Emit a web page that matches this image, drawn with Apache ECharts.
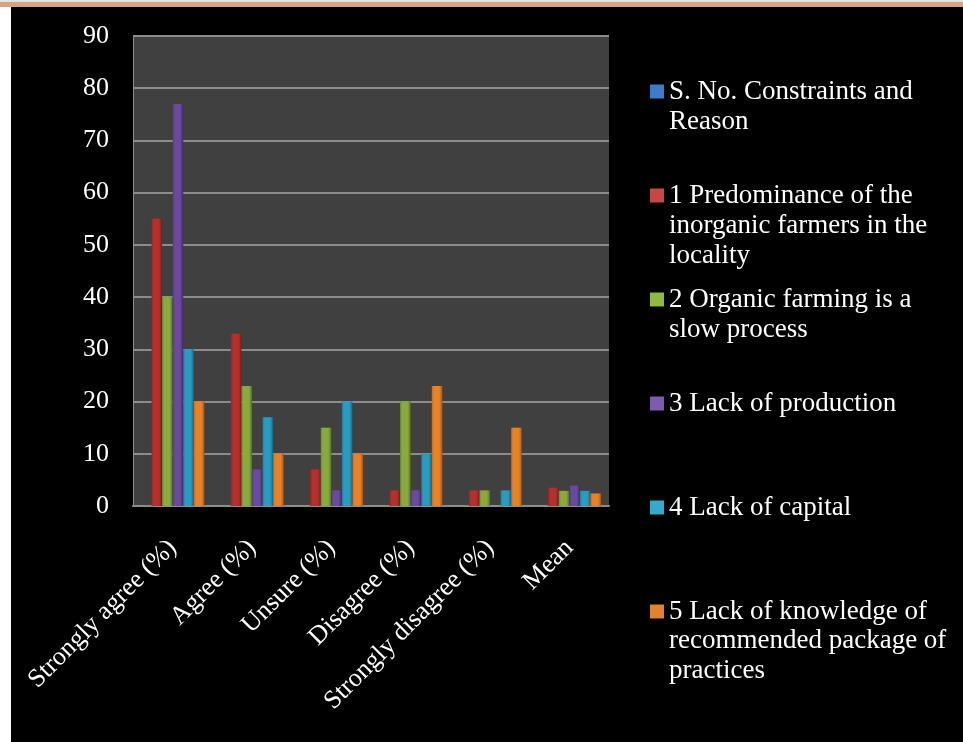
<!DOCTYPE html>
<html>
<head>
<meta charset="utf-8">
<script src="https://cdn.jsdelivr.net/npm/echarts@6/dist/echarts.min.js"></script>
<style>
html,body{margin:0;padding:0;background:#fff;}
</style>
</head>
<body>
<div style="position:absolute;left:0;top:0;width:963px;height:2px;background:#e4e4e4"></div>
<div style="position:absolute;left:0;top:2px;width:963px;height:5px;background:#d4a483"></div>
<div style="position:absolute;left:11px;top:7px;width:952px;height:735px;background:#000"></div>
<div id="chart" style="position:absolute;left:0;top:0;width:963px;height:742px"></div>
<script>
const categories = ['Strongly agree (%)', 'Agree (%)', 'Unsure (%)', 'Disagree (%)', 'Strongly disagree (%)', 'Mean'];
const seriesNames = ['S. No. Constraints and Reason', '1 Predominance of the inorganic farmers in the locality', '2 Organic farming is a slow process', '3 Lack of production', '4 Lack of capital', '5 Lack of knowledge of recommended package of practices'];
const legendFirstLines = ['S. No. Constraints and', '1 Predominance of the', '2 Organic farming is a', '3 Lack of production', '4 Lack of capital', '5 Lack of knowledge of'];
const legendMoreLines = [['Reason'], ['inorganic farmers in the', 'locality'], ['slow process'], [], [], ['recommended package of', 'practices']];
const sNoValues = [null, null, null, null, null, null];
const predominance = [55, 33, 7, 3, 3, 3.5];
const slowProcess = [40, 23, 15, 20, 3, 2.9];
const lackProduction = [77, 7, 3, 3, null, 3.9];
const lackCapital = [30, 17, 20, 10, 3, 2.9];
const lackKnowledge = [20, 10, 10, 23, 15, 2.4];
const yTicks = [0, 10, 20, 30, 40, 50, 60, 70, 80, 90];

const seriesValues = [sNoValues, predominance, slowProcess, lackProduction, lackCapital, lackKnowledge];
const palette = [
  ['#2c5f9e', '#4a86cf', '#23487a'],
  ['#952424', '#b3302e', '#6e1818'],
  ['#6d8d2c', '#88aa40', '#4f6a1e'],
  ['#523880', '#6a4a9c', '#3a2660'],
  ['#227d9c', '#2b9cc0', '#176078'],
  ['#c86a1c', '#e6822a', '#9a4e12']
];
const iconColors = ['#3d7cc9', '#c94646', '#8fb845', '#7c5cab', '#35aacb', '#e0822f'];

function grad(c) {
  return new echarts.graphic.LinearGradient(0, 0, 1, 0, [
    {offset: 0, color: c[0]}, {offset: 0.2, color: c[1]}, {offset: 0.7, color: c[1]}, {offset: 0.88, color: c[0]}, {offset: 1, color: c[2]}
  ]);
}

const font = 'Liberation Serif';
const legendSize = 27;
const chart = echarts.init(document.getElementById('chart'), null, {renderer: 'canvas'});

const graphics = [];
const firstCenters = [90, 194, 298, 402, 506, 609];
const lineGap = 30.5;
legendMoreLines.forEach((lines, i) => {
  lines.forEach((t, j) => {
    graphics.push({
      type: 'text', left: 669, top: firstCenters[i] + lineGap * (j + 1) - 12.5,
      style: {text: t, fill: '#fff', font: legendSize + 'px "' + font + '"', textVerticalAlign: 'top'}
    });
  });
});

chart.setOption({
  backgroundColor: 'transparent',
  animation: false,
  grid: {left: 133, top: 36, right: 354, bottom: 236, show: true, backgroundColor: '#404040', borderWidth: 0},
  legend: {
    orient: 'vertical', left: 650, top: 76, padding: 0,
    itemWidth: 14, itemHeight: 14, itemGap: 73,
    icon: 'rect',
    textStyle: {color: '#fff', fontFamily: font, fontSize: legendSize, lineHeight: 31},
    formatter: name => legendFirstLines[seriesNames.indexOf(name)],
    data: seriesNames.map((n, i) => ({name: n, itemStyle: {color: iconColors[i]}}))
  },
  xAxis: {
    type: 'category', data: categories,
    axisLine: {lineStyle: {color: '#8c8c8c', width: 2}},
    axisTick: {show: false},
    axisLabel: {interval: 0, rotate: 45, margin: 38, color: '#fff', fontFamily: font, fontSize: 26}
  },
  yAxis: {
    type: 'value', min: 0, max: 90, interval: 10,
    axisLine: {show: true, lineStyle: {color: '#8c8c8c', width: 1}},
    axisTick: {show: false},
    splitLine: {lineStyle: {color: '#8c8c8c', width: 2}},
    axisLabel: {margin: 24, color: '#fff', fontFamily: font, fontSize: 26,
      formatter: v => yTicks.indexOf(v) >= 0 ? String(v) : ''}
  },
  graphic: graphics,
  series: seriesNames.map((n, i) => ({
    name: n, type: 'bar', data: seriesValues[i],
    barGap: '0%', barCategoryGap: '20%',
    itemStyle: {color: grad(palette[i])}
  }))
});
</script>
</body>
</html>
